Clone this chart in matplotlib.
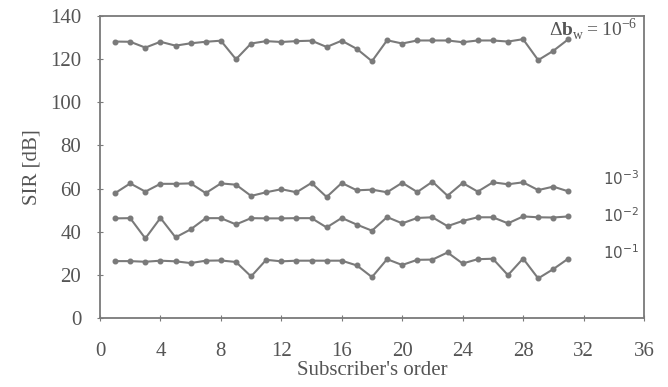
import matplotlib
matplotlib.use('Agg')
import matplotlib.pyplot as plt

# subscriber index
order = list(range(1, 32))

# SIR [dB] for each step size
sir_1e6 = [128.1, 128.0, 125.3, 128.0, 126.2, 127.3, 128.0, 128.5, 119.9, 127.2,
           128.3, 127.9, 128.3, 128.5, 125.6, 128.5, 124.7, 119.0, 128.7, 127.2,
           128.6, 128.6, 128.6, 127.8, 128.6, 128.6, 128.1, 129.2, 119.5, 123.8, 129.2]
sir_1e3 = [57.9, 62.4, 58.6, 62.2, 62.2, 62.4, 57.9, 62.4, 61.8, 56.6,
           58.3, 59.7, 58.3, 62.6, 56.1, 62.6, 59.2, 59.5, 58.3, 62.7,
           58.4, 63.2, 56.7, 62.6, 58.6, 62.9, 62.0, 62.9, 59.3, 60.9, 58.7]
sir_1e2 = [46.2, 46.3, 36.9, 46.4, 37.4, 41.1, 46.3, 46.3, 43.4, 46.3,
           46.2, 46.2, 46.3, 46.3, 42.0, 46.4, 43.3, 40.5, 46.8, 43.9,
           46.4, 46.7, 42.6, 45.0, 46.7, 46.7, 43.9, 47.1, 46.7, 46.6, 47.1]
sir_1e1 = [26.4, 26.4, 26.1, 26.6, 26.3, 25.5, 26.6, 26.7, 26.0, 19.3,
           27.0, 26.3, 26.6, 26.6, 26.6, 26.6, 24.4, 19.0, 27.3, 24.6,
           27.0, 27.1, 30.4, 25.3, 27.3, 27.5, 19.9, 27.6, 18.4, 22.7, 27.6]

series = [sir_1e6, sir_1e3, sir_1e2, sir_1e1]
small_labels = [(r'$10^{-3}$', 64.5), (r'$10^{-2}$', 47.5), (r'$10^{-1}$', 30.5)]

line_col = '#7a7a7a'
text_col = '#555555'

plt.rcParams['font.family'] = ['Liberation Serif', 'DejaVu Serif']
plt.rcParams['mathtext.fontset'] = 'custom'
plt.rcParams['mathtext.rm'] = 'Liberation Serif'
plt.rcParams['mathtext.bf'] = 'Liberation Serif:bold'

fig = plt.figure(figsize=(6.68, 3.87), dpi=100)
ax = fig.add_axes([0.1497, 0.178, 0.8143, 0.781])

for s in series:
    ax.plot(order, s, color=line_col, lw=1.5, marker='o', ms=3.3)

ax.set_xlim(0, 36)
ax.set_ylim(0, 140)
ax.set_xticks(range(0, 37, 4))
ax.set_yticks(range(0, 141, 20))

ax.text(35.6, 134, r'$\Delta\mathbf{b}_\mathrm{w} = 10^{-6}$', ha='right', va='center',
        fontsize=14, color=text_col)
for lbl, y in small_labels:
    ax.text(33.3, y, lbl, ha='left', va='center', fontsize=11, color=text_col,
            family=['Liberation Sans', 'DejaVu Sans'],
            math_fontfamily='dejavusans')

ax.set_xlabel("Subscriber's order", fontsize=15, color=text_col, labelpad=0)
ax.set_ylabel('SIR [dB]', fontsize=15, color=text_col, labelpad=6)
ax.tick_params(direction='inout', length=5, color=line_col, labelsize=15,
               labelcolor=text_col)
ax.tick_params(axis='x', pad=15)
ax.tick_params(axis='y', pad=11)
for sp in ax.spines.values():
    sp.set_color(line_col)
    sp.set_linewidth(1.3)

fig.savefig('out.png', dpi=100)
